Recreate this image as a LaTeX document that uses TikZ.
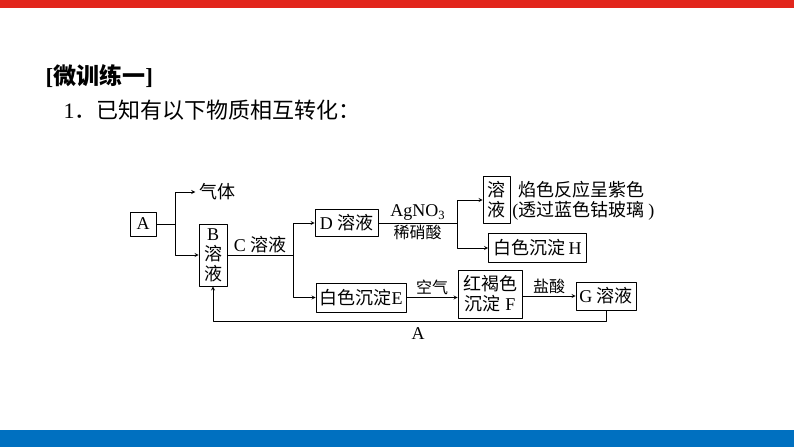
\documentclass[tikz,border=0pt]{standalone}
\usepackage{fontspec}
\setmainfont{Liberation Serif}
\newfontfamily\cjk{Noto Sans CJK SC}
\newcommand\zh[1]{{\cjk #1}}
\usetikzlibrary{arrows}
\definecolor{topred}{HTML}{E2261C}
\definecolor{botblue}{HTML}{0070C0}
\begin{document}
\begin{tikzpicture}[x=1pt,y=-1pt,line join=round,>=stealth,line width=0.8pt,
    font=\fontsize{18}{20}\selectfont,
    box/.style={draw,inner sep=0pt,align=center},
    lbl/.style={font=\fontsize{16}{18}\selectfont,inner sep=2pt}]
    \useasboundingbox (0,0) rectangle (794,447);
    \fill[topred] (0,0) rectangle (794,8);
    \fill[botblue] (0,430) rectangle (794,447);
    % heading
    \node[anchor=west,font=\fontsize{23}{26}\selectfont\bfseries] (title) at (42,76) {[\zh{微训练一}]};
    \node[anchor=west,font=\fontsize{22}{25}\selectfont] (task) at (60,110) {1\zh{．已知有以下物质相互转化：}};
    % boxes
    \node[box,minimum width=26,minimum height=24] (A) at (143,224) {A};
    \node (gas) at (217,192) {\zh{气体}};
    \node[box,minimum width=28,minimum height=62] (B) at (213,255) {B\\\zh{溶}\\\zh{液}};
    \node[box,minimum width=63,minimum height=27] (D) at (346.5,223) {D \zh{溶液}};
    \node[box,minimum width=90,minimum height=29] (E) at (361,297.5) {\zh{白色沉淀}E};
    \node[box,minimum width=27,minimum height=47] (K) at (496.5,200) {\zh{溶}\\\zh{液}};
    \node[anchor=west,inner sep=0pt] (flame) at (518,190) {\zh{焰色反应呈紫色}};
    \node[anchor=west,inner sep=0pt] (glass) at (512,211) {(\zh{透过蓝色钴玻璃}\hspace{4pt})};
    \node[box,minimum width=98,minimum height=29] (H) at (537.5,248) {\zh{白色沉淀}\,H};
    \node[box,minimum width=64,minimum height=48] (F) at (490,294) {\zh{红褐色}\\\zh{沉淀} F};
    \node[box,minimum width=60,minimum height=28] (G) at (606,296) {G \zh{溶液}};
    % connectors
    \coordinate (jA) at (175,224);
    \draw (A) -- (jA);
    \draw[->] (jA) |- (gas);
    \draw[->] (jA) |- (B);
    \coordinate (jB) at (293,255);
    \draw (B) -- (jB) node[midway,above,inner sep=2pt] {C \zh{溶液}};
    \draw[->] (jB) |- (D);
    \draw[->] (jB) |- (E);
    \coordinate (jD) at (457,223);
    \draw (D) -- (jD) node[midway,above,inner sep=2pt] {AgNO\textsubscript{3}}
        node[midway,below,lbl] {\zh{稀硝酸}};
    \draw[->] (jD) |- (K);
    \draw[->] (jD) |- (H);
    \draw[->] (E) -- (E -| F.west) node[midway,above,lbl] {\zh{空气}};
    \draw[->] (F.east |- G) -- (G) node[midway,above,lbl] {\zh{盐酸}};
    \draw[->] (G.south) -- ++(0,11) coordinate (back) -| (B.south);
    \node (labA) at (418,334) {A};
\end{tikzpicture}
\end{document}
